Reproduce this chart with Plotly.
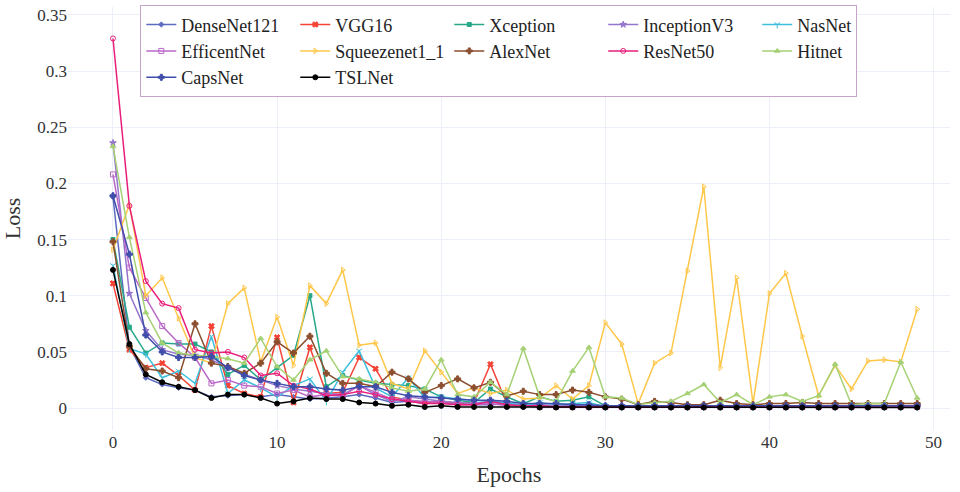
import plotly.graph_objects as go

epochs = list(range(50))

densenet121 = [0.188, 0.055, 0.027, 0.021, 0.018, 0.016, 0.010, 0.011, 0.012, 0.010,
               0.012, 0.010, 0.008, 0.009, 0.010, 0.012, 0.009, 0.005, 0.006, 0.004,
               0.005, 0.004, 0.003, 0.003, 0.004, 0.002, 0.002, 0.002, 0.001, 0.001,
               0.001, 0.001, 0.001, 0.001, 0.001, 0.001, 0.001, 0.001, 0.001, 0.001,
               0.001, 0.001, 0.001, 0.001, 0.001, 0.001, 0.001, 0.001, 0.001, 0.001]
vgg16 = [0.111, 0.052, 0.036, 0.040, 0.029, 0.016, 0.073, 0.020, 0.013, 0.010,
         0.063, 0.005, 0.054, 0.013, 0.014, 0.045, 0.035, 0.010, 0.007, 0.005,
         0.006, 0.004, 0.005, 0.039, 0.004, 0.002, 0.002, 0.002, 0.002, 0.001,
         0.001, 0.001, 0.001, 0.001, 0.001, 0.001, 0.001, 0.001, 0.001, 0.001,
         0.001, 0.001, 0.001, 0.001, 0.001, 0.001, 0.001, 0.001, 0.001, 0.001]
xception = [0.150, 0.072, 0.049, 0.058, 0.057, 0.057, 0.050, 0.030, 0.038, 0.025,
            0.036, 0.047, 0.100, 0.019, 0.029, 0.025, 0.022, 0.021, 0.020, 0.017,
            0.010, 0.007, 0.005, 0.017, 0.010, 0.004, 0.010, 0.006, 0.007, 0.010,
            0.002, 0.001, 0.001, 0.001, 0.001, 0.001, 0.001, 0.001, 0.001, 0.001,
            0.001, 0.001, 0.001, 0.001, 0.001, 0.001, 0.001, 0.001, 0.001, 0.001]
inceptionv3 = [0.236, 0.102, 0.069, 0.052, 0.048, 0.047, 0.043, 0.036, 0.030, 0.025,
               0.020, 0.017, 0.015, 0.013, 0.012, 0.020, 0.012, 0.006, 0.010, 0.008,
               0.006, 0.005, 0.004, 0.006, 0.004, 0.003, 0.003, 0.002, 0.002, 0.002,
               0.002, 0.002, 0.002, 0.002, 0.002, 0.002, 0.002, 0.002, 0.002, 0.002,
               0.002, 0.002, 0.002, 0.002, 0.002, 0.002, 0.002, 0.002, 0.002, 0.002]
nasnet = [0.127, 0.053, 0.048, 0.027, 0.033, 0.022, 0.064, 0.013, 0.025, 0.018,
          0.010, 0.020, 0.026, 0.006, 0.032, 0.051, 0.018, 0.010, 0.027, 0.009,
          0.010, 0.008, 0.007, 0.006, 0.005, 0.002, 0.005, 0.003, 0.004, 0.005,
          0.001, 0.001, 0.001, 0.001, 0.001, 0.001, 0.001, 0.001, 0.001, 0.001,
          0.001, 0.001, 0.001, 0.001, 0.001, 0.001, 0.001, 0.001, 0.001, 0.001]
efficentnet = [0.208, 0.125, 0.098, 0.073, 0.058, 0.045, 0.022, 0.025, 0.020, 0.019,
               0.013, 0.016, 0.010, 0.012, 0.011, 0.020, 0.014, 0.008, 0.007, 0.006,
               0.005, 0.003, 0.003, 0.004, 0.002, 0.002, 0.001, 0.001, 0.001, 0.001,
               0.001, 0.001, 0.001, 0.001, 0.001, 0.001, 0.001, 0.001, 0.001, 0.001,
               0.001, 0.001, 0.001, 0.001, 0.001, 0.001, 0.001, 0.001, 0.001, 0.001]
squeezenet1_1 = [0.141, 0.181, 0.100, 0.116, 0.080, 0.045, 0.040, 0.093, 0.107, 0.041,
                 0.081, 0.038, 0.109, 0.093, 0.123, 0.056, 0.058, 0.022, 0.017, 0.051,
                 0.032, 0.013, 0.018, 0.013, 0.016, 0.008, 0.009, 0.020, 0.008, 0.020,
                 0.076, 0.057, 0.004, 0.040, 0.049, 0.122, 0.197, 0.036, 0.116, 0.004,
                 0.102, 0.120, 0.064, 0.011, 0.038, 0.017, 0.042, 0.043, 0.041, 0.088]
alexnet = [0.148, 0.055, 0.035, 0.033, 0.027, 0.075, 0.040, 0.037, 0.031, 0.040,
           0.059, 0.049, 0.064, 0.031, 0.022, 0.022, 0.019, 0.032, 0.026, 0.014,
           0.020, 0.026, 0.018, 0.023, 0.011, 0.015, 0.012, 0.012, 0.016, 0.014,
           0.010, 0.008, 0.003, 0.006, 0.005, 0.003, 0.003, 0.007, 0.004, 0.003,
           0.004, 0.004, 0.005, 0.004, 0.004, 0.004, 0.004, 0.004, 0.004, 0.004]
resnet50 = [0.329, 0.180, 0.113, 0.093, 0.089, 0.052, 0.049, 0.050, 0.045, 0.029,
            0.031, 0.020, 0.017, 0.011, 0.012, 0.015, 0.012, 0.008, 0.006, 0.004,
            0.004, 0.003, 0.003, 0.006, 0.003, 0.002, 0.002, 0.001, 0.001, 0.001,
            0.001, 0.001, 0.001, 0.001, 0.001, 0.001, 0.001, 0.001, 0.001, 0.001,
            0.001, 0.001, 0.001, 0.001, 0.001, 0.001, 0.001, 0.001, 0.001, 0.001]
hitnet = [0.233, 0.152, 0.085, 0.058, 0.049, 0.047, 0.046, 0.044, 0.040, 0.062,
          0.037, 0.025, 0.043, 0.051, 0.028, 0.026, 0.023, 0.018, 0.015, 0.017,
          0.043, 0.012, 0.010, 0.023, 0.012, 0.053, 0.010, 0.006, 0.033, 0.054,
          0.010, 0.009, 0.003, 0.005, 0.006, 0.013, 0.021, 0.005, 0.012, 0.003,
          0.010, 0.012, 0.006, 0.011, 0.039, 0.003, 0.004, 0.004, 0.041, 0.009]
capsnet = [0.189, 0.137, 0.065, 0.050, 0.045, 0.045, 0.046, 0.036, 0.029, 0.025,
           0.022, 0.019, 0.019, 0.017, 0.016, 0.019, 0.019, 0.014, 0.011, 0.010,
           0.009, 0.008, 0.007, 0.007, 0.006, 0.004, 0.004, 0.004, 0.003, 0.003,
           0.002, 0.002, 0.002, 0.002, 0.002, 0.002, 0.002, 0.002, 0.002, 0.002,
           0.002, 0.002, 0.002, 0.002, 0.002, 0.002, 0.002, 0.002, 0.002, 0.002]
tslnet = [0.123, 0.057, 0.030, 0.023, 0.019, 0.016, 0.009, 0.012, 0.012, 0.009,
          0.004, 0.006, 0.009, 0.008, 0.008, 0.005, 0.004, 0.002, 0.003, 0.001,
          0.002, 0.001, 0.001, 0.001, 0.001, 0.001, 0.0005, 0.0005, 0.0005, 0.0005,
          0.0005, 0.0005, 0.0005, 0.0005, 0.0005, 0.0005, 0.0005, 0.0005, 0.0005, 0.0005,
          0.0005, 0.0005, 0.0005, 0.0005, 0.0005, 0.0005, 0.0005, 0.0005, 0.0005, 0.0005]

names = ["DenseNet121", "VGG16", "Xception", "InceptionV3", "NasNet",
         "EfficentNet", "Squeezenet1_1", "AlexNet", "ResNet50", "Hitnet",
         "CapsNet", "TSLNet"]
series = [densenet121, vgg16, xception, inceptionv3, nasnet,
          efficentnet, squeezenet1_1, alexnet, resnet50, hitnet,
          capsnet, tslnet]
colors = ["#5C6BC0", "#F44336", "#26A889", "#9575CD", "#3DBFDC",
          "#BA68C8", "#FFC74A", "#8B4E2E", "#E91E7A", "#A5D174",
          "#3F4DAA", "#000000"]
symbols = ["diamond", "x", "square", "star", "y-down",
           "square-open", "triangle-right-open", "cross", "circle-open", "triangle-up",
           "cross", "circle"]
msizes = [4, 5, 4, 5, 5, 5, 5, 5, 5, 5, 5, 5]

FONT = "Liberation Serif, Times New Roman, serif"

fig = go.Figure()
for n, s, c, sym, ms in zip(names, series, colors, symbols, msizes):
    fig.add_trace(go.Scatter(
        x=epochs, y=s, name=n, mode="lines+markers",
        line=dict(color=c, width=1.5),
        marker=dict(color=c, symbol=sym, size=ms, line=dict(color=c, width=1)),
    ))

fig.update_layout(
    template="plotly_white",
    width=960, height=492,
    margin=dict(l=68, r=10, t=5, b=62),
    font=dict(family=FONT, size=17, color="#333333"),
    xaxis=dict(title=dict(text="Epochs", font=dict(size=22)),
               range=[-2.74, 51.0], tickvals=[0, 10, 20, 30, 40, 50],
               showline=False, zeroline=False),
    yaxis=dict(title=dict(text="Loss", font=dict(size=22)),
               range=[-0.0195, 0.357],
               tickvals=[0, 0.05, 0.1, 0.15, 0.2, 0.25, 0.3, 0.35],
               zeroline=False),
    legend=dict(orientation="h", x=0.082, y=1.004, xanchor="left", yanchor="top",
                bgcolor="white", bordercolor="#C7A4CC", borderwidth=1,
                font=dict(family=FONT, size=18, color="#222222")),
    plot_bgcolor="white", paper_bgcolor="white",
)

fig.write_html("out.html")
